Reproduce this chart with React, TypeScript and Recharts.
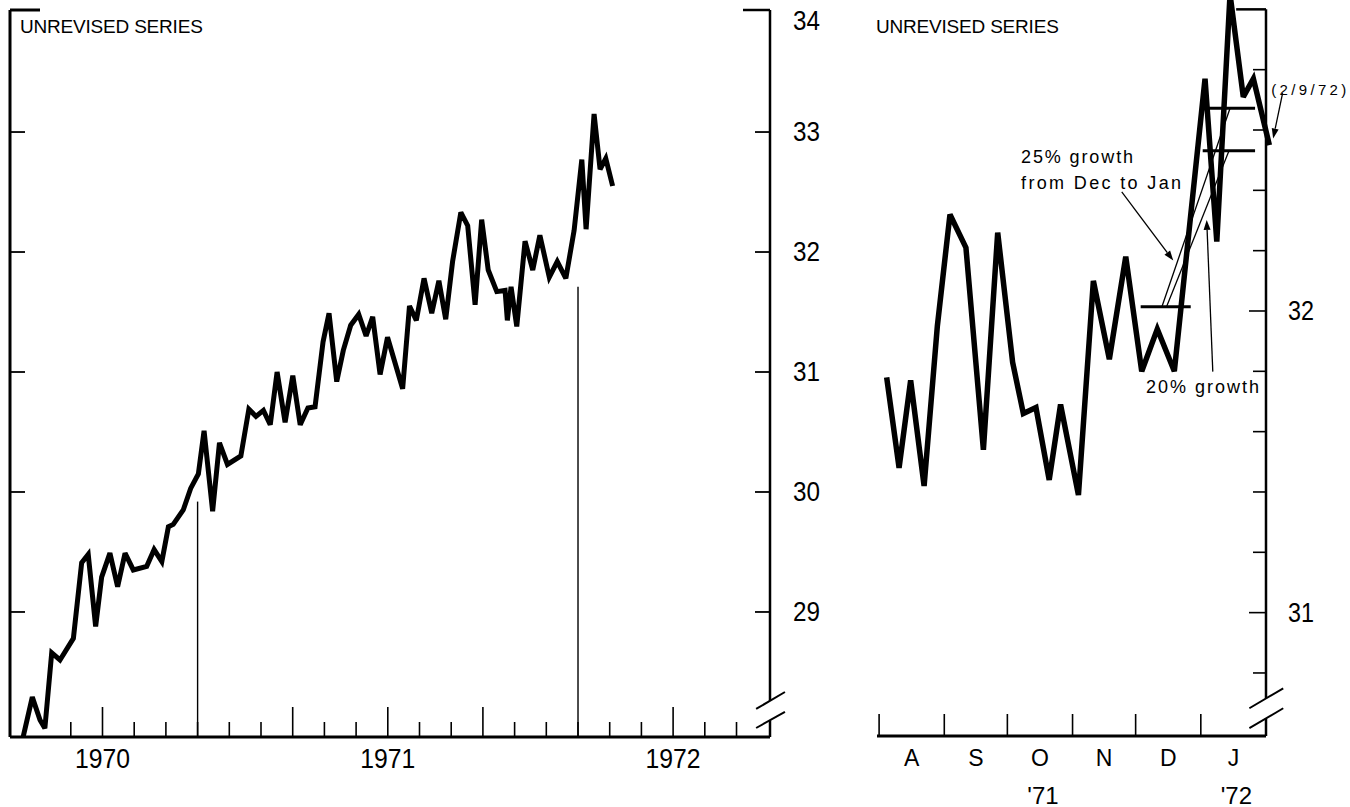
import React from "react"
import { LineChart, Line, XAxis, YAxis, ReferenceLine, ReferenceDot } from "recharts"

const FONT = "'Liberation Sans', Arial, Helvetica, sans-serif"

// ---------- left panel: unrevised series, x in decimal years ----------
const leftTimes = [
  1969.722, 1969.754, 1969.781, 1969.798, 1969.822, 1969.851, 1969.898, 1969.927, 1969.95, 1969.976,
  1969.997, 1970.026, 1970.053, 1970.079, 1970.108, 1970.155, 1970.181, 1970.208, 1970.231, 1970.248,
  1970.283, 1970.309, 1970.336, 1970.356, 1970.386, 1970.41, 1970.438, 1970.485, 1970.513, 1970.538,
  1970.564, 1970.588, 1970.612, 1970.64, 1970.667, 1970.693, 1970.72, 1970.745, 1970.773, 1970.794,
  1970.821, 1970.844, 1970.87, 1970.898, 1970.924, 1970.947, 1970.973, 1970.999, 1971.052, 1971.076,
  1971.1, 1971.127, 1971.154, 1971.179, 1971.203, 1971.227, 1971.256, 1971.28, 1971.306, 1971.329,
  1971.352, 1971.382, 1971.411, 1971.419, 1971.432, 1971.452, 1971.481, 1971.508, 1971.533, 1971.566,
  1971.594, 1971.624, 1971.653, 1971.68, 1971.695, 1971.723, 1971.744, 1971.764, 1971.788,
]
const leftValues = [
  27.96, 28.29, 28.1, 28.03, 28.66, 28.6, 28.78, 29.41, 29.48, 28.88,
  29.29, 29.49, 29.21, 29.49, 29.35, 29.38, 29.52, 29.42, 29.71, 29.73,
  29.85, 30.03, 30.15, 30.51, 29.84, 30.41, 30.23, 30.3, 30.69, 30.63,
  30.68, 30.56, 31.0, 30.58, 30.97, 30.56, 30.7, 30.71, 31.25, 31.49,
  30.92, 31.18, 31.39, 31.48, 31.3, 31.46, 30.98, 31.29, 30.86, 31.55,
  31.43, 31.78, 31.49, 31.76, 31.44, 31.92, 32.33, 32.22, 31.56, 32.27,
  31.85, 31.67, 31.68, 31.43, 31.71, 31.38, 32.09, 31.85, 32.14, 31.79,
  31.92, 31.78, 32.18, 32.77, 32.19, 33.15, 32.69, 32.78, 32.55,
]
const leftYearLabels = ["1970", "1971", "1972"]
const leftTallSteps = [0, 6, 9, 12, 18] // tick steps of 1/9 year drawn long
const leftValueTicks = [29, 30, 31, 32, 33, 34]
const leftInnerTicks = [29, 30, 31, 32, 33]
const leftMarkerTimes = [1970 + 3 / 9, 1970 + 15 / 9]
const leftMarkerTops = [29.92, 31.71]

// ---------- right panel: weekly, x in days after 1 Aug 1971 ----------
const rightDays = [
  3.6, 9.5, 15.0, 21.4, 27.7, 33.7, 41.3, 49.6, 56.4, 63.5, 68.6, 74.6, 80.9, 86.3,
  94.8, 101.9, 109.5, 117.3, 124.9, 132.3, 140.4, 155.0, 160.6, 166.9, 173.2, 178.0, 185.6,
]
const rightValues = [
  31.78, 31.48, 31.77, 31.42, 31.95, 32.32, 32.21, 31.54, 32.26, 31.83, 31.66, 31.68, 31.44, 31.69,
  31.39, 32.1, 31.84, 32.18, 31.8, 31.94, 31.8, 32.77, 32.23, 33.05, 32.71, 32.77, 32.55,
]
const monthLetters = ["A", "S", "O", "N", "D", "J"]
const monthYears = ["", "", "'71", "", "", "'72"]
const monthStarts = [0, 31, 61, 92, 122, 153, 184]
const rightValueTicks = [30.8, 31, 31.2, 31.4, 31.6, 31.8, 32, 32.2, 32.4, 32.6, 32.8]
const rightValueLabels = [31, 32]

// growth annotation levels (right panel)
const decLevel = 32.014
const janLevel20 = 32.531
const janLevel25 = 32.672

// ---------- geometry ----------
const L_X: [number, number] = [1969.6758, 1972.3396]
const L_Y: [number, number] = [27.958, 34.017]
const L_PX_YEAR = 760 / (L_X[1] - L_X[0])
const R_X: [number, number] = [-1, 188.756]
const R_Y: [number, number] = [30.591, 33.031]
const R_PX_DAY = 399 / (R_X[1] - R_X[0])
const R_PX_UNIT = 736 / (R_Y[1] - R_Y[0])
const R_AXIS = monthStarts[6]
const R_AXIS_GAP = (R_X[1] - R_AXIS) * R_PX_DAY

const txt = { fontFamily: FONT, fill: "#000" }

const LeftTimeTick = (p: any) => {
  const { x, y, payload } = p
  const k = Math.round((payload.value - 1970) * 9)
  const tall = leftTallSteps.includes(k)
  const label = k >= 0 && k % 9 === 0 ? leftYearLabels[k / 9] : undefined
  return (
    <g>
      <line x1={x} x2={x} y1={y} y2={y - (tall ? 30 : 15)} stroke="#000" strokeWidth={1.6} />
      {label && (
        <text {...txt} x={x} y={y + 21} textAnchor="middle" dominantBaseline="central" fontSize={28} textLength={55} lengthAdjust="spacingAndGlyphs">
          {label}
        </text>
      )}
    </g>
  )
}

const LeftValueTick = (p: any) => {
  const { x, y, payload } = p
  const v = payload.value
  const top = v === leftValueTicks[leftValueTicks.length - 1]
  return (
    <g>
      {!top && <line x1={x - 15} x2={x} y1={y} y2={y} stroke="#000" strokeWidth={1.8} />}
      <text {...txt} x={x + 23} y={y + (top ? 9 : 0)} dominantBaseline="central" fontSize={27} textLength={27} lengthAdjust="spacingAndGlyphs">
        {v}
      </text>
    </g>
  )
}

const MonthTick = (p: any) => {
  const { x, y, index } = p
  return (
    <g>
      <text {...txt} x={x} y={y + 22} textAnchor="middle" dominantBaseline="central" fontSize={23}>
        {monthLetters[index]}
      </text>
      {monthYears[index] && (
        <text {...txt} x={x + 3} y={y + 59} textAnchor="middle" dominantBaseline="central" fontSize={24}>
          {monthYears[index]}
        </text>
      )}
    </g>
  )
}

const RightValueTick = (p: any) => {
  const { x, y, payload } = p
  const ax = x - R_AXIS_GAP
  const major = rightValueLabels.includes(payload.value)
  return (
    <g>
      <line x1={ax - (major ? 17 : 13)} x2={ax} y1={y} y2={y} stroke="#000" strokeWidth={1.6} />
      {major && (
        <text {...txt} x={ax + 22} y={y} dominantBaseline="central" fontSize={27} textLength={26} lengthAdjust="spacingAndGlyphs">
          {payload.value}
        </text>
      )}
    </g>
  )
}

const arrowShape = (p: any) => {
  const { x1, y1, x2, y2 } = p
  const a = Math.atan2(y2 - y1, x2 - x1)
  const len = 10
  const w = 3.5
  const bx = x2 - len * Math.cos(a)
  const by = y2 - len * Math.sin(a)
  const pts = `${x2},${y2} ${bx - w * Math.sin(a)},${by + w * Math.cos(a)} ${bx + w * Math.sin(a)},${by - w * Math.cos(a)}`
  return (
    <g>
      <line x1={x1} y1={y1} x2={bx} y2={by} stroke="#000" strokeWidth={1.3} />
      <polygon points={pts} fill="#000" />
    </g>
  )
}

const textShape = (label: string, size: number, width: number) => (p: any) => (
  <text {...txt} x={p.cx} y={p.cy} dominantBaseline="central" fontSize={size} textLength={width} lengthAdjust="spacing">
    {label}
  </text>
)

const seg = (x1: number, y1: number, x2: number, y2: number) => [
  { x: x1, y: y1 },
  { x: x2, y: y2 },
]

const titleStyle = (left: number): React.CSSProperties => ({
  position: "absolute",
  left,
  top: 17,
  fontSize: 19,
  lineHeight: "19px",
  letterSpacing: -0.2,
  fontFamily: FONT,
  color: "#000",
  whiteSpace: "nowrap",
})

export default function App() {
  const leftData = leftTimes.map((t, i) => ({ t, v: leftValues[i] }))
  const rightData = rightDays.map((d, i) => ({ d, v: rightValues[i] }))
  const leftTimeTicks = Array.from({ length: 22 }, (_, i) => 1970 + (i - 1) / 9)
  const monthMids = monthStarts.slice(0, 6).map((m, i) => (m + monthStarts[i + 1]) / 2)
  const tickUp = 22 / R_PX_UNIT

  return (
    <div style={{ position: "absolute", left: 0, top: 0, width: 1350, height: 807, background: "#fff", overflow: "hidden" }}>
      <div style={{ position: "absolute", left: 0, top: 0 }}>
        <LineChart width={840} height={807} data={leftData} margin={{ top: 10, right: 0, bottom: 0, left: 10 }}>
          <XAxis
            dataKey="t"
            type="number"
            domain={L_X}
            allowDataOverflow
            ticks={leftTimeTicks}
            interval={0}
            height={70}
            tickLine={false}
            tickSize={0}
            tickMargin={0}
            axisLine={{ stroke: "#000", strokeWidth: 3 }}
            tick={LeftTimeTick}
          />
          <YAxis
            yAxisId="r"
            orientation="right"
            width={70}
            type="number"
            domain={L_Y}
            allowDataOverflow
            ticks={leftValueTicks}
            interval={0}
            tickLine={false}
            tickSize={0}
            tickMargin={0}
            axisLine={false}
            tick={LeftValueTick}
          />
          {/* left frame edge with inward ticks */}
          <ReferenceLine yAxisId="r" ifOverflow="visible" segment={seg(L_X[0], L_Y[1], L_X[0], L_Y[0])} stroke="#000" strokeWidth={3} />
          {leftInnerTicks.map((v) => (
            <ReferenceLine key={v} yAxisId="r" ifOverflow="visible" segment={seg(L_X[0], v, L_X[0] + 15 / L_PX_YEAR, v)} stroke="#000" strokeWidth={1.8} />
          ))}
          {/* top and right frame pieces, axis break */}
          <ReferenceLine yAxisId="r" ifOverflow="visible" segment={seg(L_X[0], L_Y[1], L_X[0] + 30 / L_PX_YEAR, L_Y[1])} stroke="#000" strokeWidth={3} />
          <ReferenceLine yAxisId="r" ifOverflow="visible" segment={seg(L_X[1] - 27 / L_PX_YEAR, L_Y[1], L_X[1], L_Y[1])} stroke="#000" strokeWidth={2.5} />
          <ReferenceLine yAxisId="r" ifOverflow="visible" segment={seg(L_X[1], L_Y[1], L_X[1], 28.26)} stroke="#000" strokeWidth={2.5} />
          <ReferenceLine yAxisId="r" ifOverflow="visible" segment={seg(L_X[1], 28.097, L_X[1], L_Y[0])} stroke="#000" strokeWidth={2.5} />
          <ReferenceLine yAxisId="r" ifOverflow="visible" segment={seg(1972.291, 28.192, 1972.392, 28.333)} stroke="#000" strokeWidth={2} />
          <ReferenceLine yAxisId="r" ifOverflow="visible" segment={seg(1972.291, 28.033, 1972.392, 28.167)} stroke="#000" strokeWidth={2} />
          {leftMarkerTimes.map((t, i) => (
            <ReferenceLine key={t} yAxisId="r" ifOverflow="visible" segment={seg(t, L_Y[0], t, leftMarkerTops[i])} stroke="#000" strokeWidth={1.4} />
          ))}
          <Line
            yAxisId="r"
            type="linear"
            dataKey="v"
            stroke="#000"
            strokeWidth={5}
            strokeLinejoin="miter"
            strokeMiterlimit={3}
            dot={false}
            activeDot={false}
            isAnimationActive={false}
          />
        </LineChart>
      </div>

      <div style={{ position: "absolute", left: 840, top: 0 }}>
        <LineChart width={510} height={807} data={rightData} margin={{ top: 0, right: 0, bottom: 0, left: 37 }}>
          <XAxis
            dataKey="d"
            type="number"
            domain={R_X}
            allowDataOverflow
            ticks={monthMids}
            interval={0}
            height={71}
            tickLine={false}
            tickSize={0}
            tickMargin={0}
            axisLine={false}
            tick={MonthTick}
          />
          <YAxis
            orientation="right"
            width={74}
            type="number"
            domain={R_Y}
            allowDataOverflow
            ticks={rightValueTicks}
            interval={0}
            tickLine={false}
            tickSize={0}
            tickMargin={0}
            axisLine={false}
            tick={RightValueTick}
          />
          {/* frame pieces */}
          <ReferenceLine ifOverflow="visible" segment={seg(R_X[0], R_Y[0], R_AXIS, R_Y[0])} stroke="#000" strokeWidth={3} />
          <ReferenceLine ifOverflow="visible" segment={seg(R_AXIS, 33, R_AXIS, 30.716)} stroke="#000" strokeWidth={2.5} />
          <ReferenceLine ifOverflow="visible" segment={seg(R_AXIS, 30.65, R_AXIS, R_Y[0])} stroke="#000" strokeWidth={2.5} />
          <ReferenceLine ifOverflow="visible" segment={seg(169.8, 33, R_AXIS, 33)} stroke="#000" strokeWidth={2.5} />
          <ReferenceLine ifOverflow="visible" segment={seg(176.1, 30.683, 192.2, 30.749)} stroke="#000" strokeWidth={2} />
          <ReferenceLine ifOverflow="visible" segment={seg(176.1, 30.617, 192.2, 30.683)} stroke="#000" strokeWidth={2} />
          {monthStarts.slice(0, 6).map((m) => (
            <ReferenceLine key={m} ifOverflow="visible" segment={seg(m, R_Y[0], m, R_Y[0] + tickUp)} stroke="#000" strokeWidth={1.6} />
          ))}

          {/* growth annotation */}
          <ReferenceLine ifOverflow="visible" segment={seg(124.4, decLevel, 148.2, decLevel)} stroke="#000" strokeWidth={3} />
          <ReferenceLine ifOverflow="visible" segment={seg(153.9, janLevel20, 178.8, janLevel20)} stroke="#000" strokeWidth={3} />
          <ReferenceLine ifOverflow="visible" segment={seg(156.6, janLevel25, 178.8, janLevel25)} stroke="#000" strokeWidth={3} />
          <ReferenceLine ifOverflow="visible" segment={seg(134.5, decLevel, 166.9, janLevel25)} stroke="#000" strokeWidth={1.3} />
          <ReferenceLine ifOverflow="visible" segment={seg(136.7, decLevel, 166.4, janLevel20)} stroke="#000" strokeWidth={1.3} />
          <ReferenceLine ifOverflow="visible" segment={seg(115.4, 32.395, 139.9, 32.167)} shape={arrowShape} />
          <ReferenceLine ifOverflow="visible" segment={seg(158.7, 31.799, 155.8, 32.302)} shape={arrowShape} />
          <ReferenceLine ifOverflow="visible" segment={seg(191.9, 32.722, 187.4, 32.572)} shape={arrowShape} />

          <ReferenceDot ifOverflow="visible" x={67.5} y={32.511} r={0} shape={textShape("25% growth", 18, 112)} />
          <ReferenceDot ifOverflow="visible" x={67.5} y={32.425} r={0} shape={textShape("from Dec  to Jan", 18, 160)} />
          <ReferenceDot ifOverflow="visible" x={126.9} y={31.749} r={0} shape={textShape("20% growth", 18, 113)} />
          <ReferenceDot ifOverflow="visible" x={186.5} y={32.733} r={0} shape={textShape("(2/9/72)", 15, 75)} />

          <Line
            type="linear"
            dataKey="v"
            stroke="#000"
            strokeWidth={5.5}
            strokeLinejoin="miter"
            strokeMiterlimit={3}
            dot={false}
            activeDot={false}
            isAnimationActive={false}
          />
        </LineChart>
      </div>

      <div style={titleStyle(20)}>UNREVISED SERIES</div>
      <div style={titleStyle(876)}>UNREVISED SERIES</div>
    </div>
  )
}
